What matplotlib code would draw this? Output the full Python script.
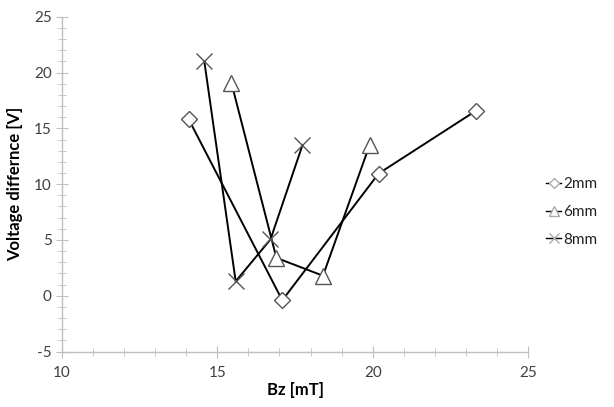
import matplotlib
matplotlib.use("Agg")
import matplotlib.pyplot as plt
from matplotlib.ticker import MultipleLocator

plt.rcParams['font.family'] = ['Lato', 'DejaVu Sans']
plt.rcParams['axes.unicode_minus'] = False

bz_2mm = [14.08, 17.09, 20.19, 23.31]
v_2mm = [15.8, -0.4, 10.95, 16.55]
bz_6mm = [15.45, 16.9, 18.4, 19.9]
v_6mm = [19.1, 3.4, 1.8, 13.5]
bz_8mm = [14.58, 15.59, 16.71, 17.74]
v_8mm = [21.0, 1.3, 5.05, 13.5]
labels = ["2mm", "6mm", "8mm"]

fig = plt.figure(figsize=(6.14, 4.07), dpi=100)
ax = fig.add_axes([0.101, 0.136, 0.759, 0.823])

common = dict(color='black', lw=1.4, mfc='white', mec='#555555', mew=1.0)
ax.plot(bz_2mm, v_2mm, marker='D', ms=8, label=labels[0], **common)
ax.plot(bz_6mm, v_6mm, marker='^', ms=11, label=labels[1], **common)
ax.plot(bz_8mm, v_8mm, marker='x', ms=11, label=labels[2], **common)

ax.set_xlim(10, 25)
ax.set_ylim(-5, 25)
ax.xaxis.set_major_locator(MultipleLocator(5))
ax.xaxis.set_minor_locator(MultipleLocator(1))
ax.yaxis.set_major_locator(MultipleLocator(5))
ax.yaxis.set_minor_locator(MultipleLocator(1))
for s in ['top', 'right']:
    ax.spines[s].set_visible(False)
for s in ['left', 'bottom']:
    ax.spines[s].set_color('#bfbfbf')
    ax.spines[s].set_linewidth(1.0)
ax.tick_params(which='both', direction='inout', color='#bfbfbf', labelcolor='#404040', labelsize=11)
ax.tick_params(which='major', length=8)
ax.tick_params(which='minor', length=6)
ax.tick_params(axis='x', pad=6)
ax.set_xlabel('Bz [mT]', fontsize=12, fontweight='bold', labelpad=2)
ax.set_ylabel('Voltage differnce [V]', fontsize=12, fontweight='bold', labelpad=8)

leg = fig.legend(loc='center left', bbox_to_anchor=(546 / 614, 1 - 212 / 407),
                 bbox_transform=fig.transFigure, frameon=False,
                 fontsize=11, handlelength=1.0, handletextpad=0.15, labelspacing=0.9,
                 markerscale=0.6, borderaxespad=0, borderpad=0)
for t in leg.get_texts():
    t.set_color('#202020')
for h in leg.legend_handles:
    h.set_linewidth(1.0)
    h.set_markeredgecolor('#aaaaaa')

fig.savefig('out.png', dpi=100)
